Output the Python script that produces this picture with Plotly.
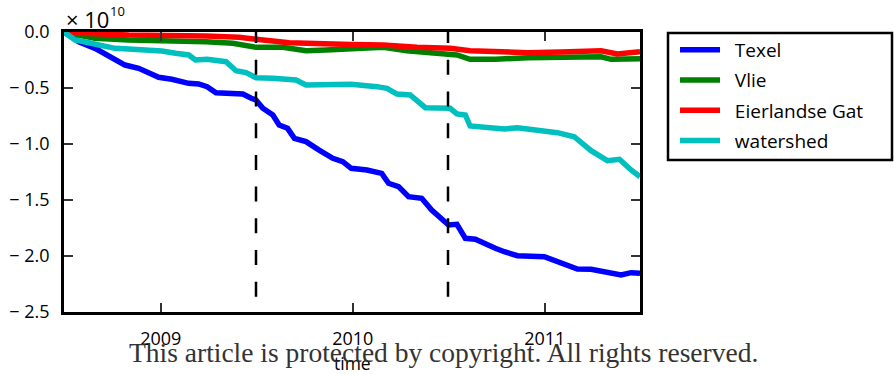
import plotly.graph_objects as go

# Cumulative volume change per inlet (units of 1e10), read at irregular dates
texel_dates = [
    "2008-07-01", "2008-07-29", "2008-08-29", "2008-09-30", "2008-10-25", "2008-11-20",
    "2008-12-09", "2008-12-28", "2009-01-22", "2009-02-23", "2009-03-14", "2009-03-30",
    "2009-04-16", "2009-05-05", "2009-06-06", "2009-06-22", "2009-07-01", "2009-07-14",
    "2009-08-02", "2009-08-14", "2009-08-30", "2009-09-12", "2009-10-04", "2009-10-29",
    "2009-11-24", "2009-12-13", "2009-12-29", "2010-01-28", "2010-02-25", "2010-03-10",
    "2010-03-29", "2010-04-17", "2010-05-12", "2010-05-31", "2010-06-19", "2010-07-02",
    "2010-07-18", "2010-08-03", "2010-08-22", "2010-09-13", "2010-09-29", "2010-10-16",
    "2010-11-10", "2010-12-31", "2011-02-01", "2011-03-04", "2011-03-30", "2011-04-30",
    "2011-05-26", "2011-06-14", "2011-07-01",
]
texel_values = [
    0.0, -0.087, -0.146, -0.235, -0.295, -0.324,
    -0.363, -0.404, -0.422, -0.458, -0.464, -0.488,
    -0.542, -0.547, -0.554, -0.592, -0.607, -0.681,
    -0.741, -0.830, -0.860, -0.949, -0.979, -1.054,
    -1.128, -1.158, -1.217, -1.232, -1.262, -1.351,
    -1.381, -1.471, -1.485, -1.589, -1.663, -1.723,
    -1.717, -1.842, -1.851, -1.902, -1.931, -1.962,
    -1.997, -2.006, -2.065, -2.116, -2.119, -2.146,
    -2.170, -2.149, -2.154,
]

vlie_dates = [
    "2008-07-01", "2008-08-29", "2008-11-01", "2009-01-03", "2009-03-08", "2009-03-28",
    "2009-05-18", "2009-07-01", "2009-08-21", "2009-10-04", "2009-11-11", "2009-12-29",
    "2010-02-28", "2010-04-14", "2010-06-03", "2010-07-18", "2010-08-12", "2010-09-29",
    "2010-11-29", "2011-02-01", "2011-03-11", "2011-04-18", "2011-05-07", "2011-07-01",
]
vlie_values = [
    -0.005, -0.056, -0.071, -0.078, -0.080, -0.087,
    -0.101, -0.137, -0.137, -0.167, -0.161, -0.146,
    -0.137, -0.167, -0.185, -0.205, -0.244, -0.244,
    -0.229, -0.221, -0.214, -0.221, -0.244, -0.238,
]

eierland_dates = [
    "2008-07-01", "2008-11-01", "2009-03-28", "2009-05-30", "2009-07-01", "2009-09-02",
    "2009-12-29", "2010-02-28", "2010-05-03", "2010-07-05", "2010-08-12", "2010-09-29",
    "2010-11-29", "2011-02-01", "2011-04-18", "2011-05-19", "2011-07-01",
]
eierland_values = [
    -0.005, -0.027, -0.036, -0.047, -0.065, -0.096,
    -0.112, -0.116, -0.137, -0.146, -0.167, -0.179,
    -0.185, -0.179, -0.167, -0.196, -0.176,
]

watershed_dates = [
    "2008-07-01", "2008-07-22", "2008-08-17", "2008-09-11", "2008-10-06", "2008-11-01",
    "2008-12-02", "2009-01-03", "2009-01-29", "2009-02-23", "2009-03-08", "2009-03-30",
    "2009-05-05", "2009-05-24", "2009-06-12", "2009-07-01", "2009-08-02", "2009-09-15",
    "2009-10-04", "2009-11-11", "2009-12-29", "2010-02-16", "2010-03-07", "2010-03-26",
    "2010-04-20", "2010-05-19", "2010-06-16", "2010-07-05", "2010-07-18", "2010-08-03",
    "2010-08-12", "2010-09-29", "2010-10-16", "2010-11-10", "2010-12-31", "2011-01-25",
    "2011-02-26", "2011-03-14", "2011-03-30", "2011-04-30", "2011-05-23", "2011-06-14",
    "2011-07-01",
]
watershed_values = [
    0.0, -0.071, -0.096, -0.116, -0.146, -0.152,
    -0.161, -0.170, -0.190, -0.205, -0.250, -0.244,
    -0.265, -0.346, -0.363, -0.408, -0.413, -0.429,
    -0.473, -0.473, -0.467, -0.488, -0.503, -0.554,
    -0.562, -0.676, -0.672, -0.681, -0.732, -0.741,
    -0.839, -0.854, -0.866, -0.854, -0.881, -0.899,
    -0.935, -0.994, -1.060, -1.149, -1.137, -1.232,
    -1.292,
]

series_names = ["Texel", "Vlie", "Eierlandse Gat", "watershed"]
series_colors = ["#0000ff", "#008000", "#ff0000", "#00bfbf"]
series_dates = [texel_dates, vlie_dates, eierland_dates, watershed_dates]
series_values = [texel_values, vlie_values, eierland_values, watershed_values]

# Mid-year markers drawn as dashed verticals
event_dates = ["2009-07-01", "2010-07-01"]

x_tick_dates = ["2009-01-01", "2010-01-01", "2011-01-01"]
x_tick_labels = ["2009", "2010", "2011"]
y_tick_values = [0.0, -0.5, -1.0, -1.5, -2.0, -2.5]
y_tick_labels = ["0.0", "\u2212 0.5", "\u2212 1.0", "\u2212 1.5", "\u2212 2.0", "\u2212 2.5"]

x_range = ["2008-07-01", "2011-07-01"]
y_range = [-2.5, 0.0]

FONT = "Open Sans"
LEGEND_PAD = "\u00a0\u00a0"  # gap between legend swatch and label

fig = go.Figure()
for name, color, dates, vals in zip(series_names, series_colors, series_dates, series_values):
    fig.add_trace(go.Scatter(
        x=dates, y=vals, mode="lines", name=LEGEND_PAD + name, legendgroup=name,
        line=dict(color=color, width=5.5),
    ))

for d in event_dates:
    fig.add_shape(type="line", xref="x", yref="y", x0=d, x1=d, y0=0.035, y1=y_range[0],
                  line=dict(color="black", width=2.5, dash="15px,16.7px"), layer="above")

axis_common = dict(
    showline=True, linecolor="black", linewidth=2.5, mirror="ticks",
    ticks="inside", ticklen=9, tickwidth=1.5, tickcolor="#333333",
    showgrid=False, zeroline=False,
    tickfont=dict(family=FONT, size=18, color="black"),
)

fig.update_xaxes(type="date", range=x_range, tickmode="array",
                 tickvals=x_tick_dates, ticktext=x_tick_labels,
                 ticklabelstandoff=9, **axis_common)
fig.update_yaxes(range=y_range, tickmode="array", tickvals=y_tick_values, ticktext=y_tick_labels,
                 ticklabelstandoff=8, **axis_common)

# x-axis caption, centred under the plot area
fig.add_annotation(text="time", xref="paper", yref="paper", x=0.5, y=(312 - 363) / 280,
                   xanchor="center", yanchor="middle", showarrow=False,
                   font=dict(family=FONT, size=17.5, color="black"))

# Legend frame
fig.add_shape(type="rect", xref="paper", yref="paper",
              x0=(668 - 64) / 576, x1=(892 - 64) / 576,
              y0=(312 - 160) / 280, y1=(312 - 33) / 280,
              line=dict(color="black", width=2.5), fillcolor="rgba(0,0,0,0)")

# Axis multiplier, drawn as base and exponent
fig.add_annotation(text="\u00d7 10", xref="paper", yref="paper",
                   x=0.0, y=1.048, xanchor="left", yanchor="middle", showarrow=False,
                   font=dict(family=FONT, size=22, color="black"))
fig.add_annotation(text="10", xref="paper", yref="paper",
                   x=(108 - 64) / 576, y=1.076, xanchor="left", yanchor="middle", showarrow=False,
                   font=dict(family=FONT, size=13, color="black"))

fig.add_annotation(text="This article is protected by copyright. All rights reserved.",
                   xref="paper", yref="paper", x=0.659, y=-0.143,
                   xanchor="center", yanchor="middle", showarrow=False,
                   font=dict(family="Liberation Serif", size=27.5, color="#333333"))

fig.update_layout(
    width=894, height=374,
    margin=dict(l=64, r=254, t=32, b=62, autoexpand=False),
    paper_bgcolor="white", plot_bgcolor="white",
    showlegend=True,
    legend=dict(x=(675 - 64) / 576, y=(312 - 31) / 280, xanchor="left", yanchor="top",
                bgcolor="rgba(0,0,0,0)", borderwidth=0, traceorder="grouped",
                tracegroupgap=2.5, itemwidth=40,
                font=dict(family=FONT, size=19, color="black")),
)

fig.write_html("out.html")
